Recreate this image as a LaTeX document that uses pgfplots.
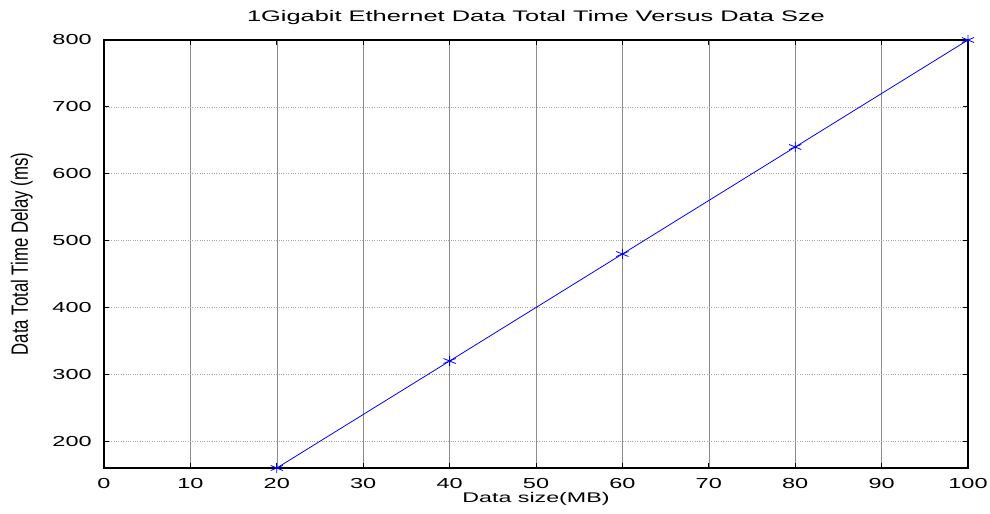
\documentclass[border=0pt]{standalone}
\usepackage{pgfplots}
\pgfplotsset{compat=1.18}
\usepackage{fontspec}
\setmainfont{Liberation Sans}
\begin{document}
\begin{tikzpicture}
\begin{axis}[
  scale only axis,
  width=864bp, height=428bp,
  xmin=0, xmax=100, ymin=160, ymax=800,
  xtick={0,10,...,100},
  ytick={200,300,...,800},
  grid=major,
  x grid style={gray!90, line width=0.6bp},
  y grid style={gray!70, dotted, line width=0.6bp},
  axis line style={black, line width=1.3bp},
  tick align=inside,
  major tick length=5bp,
  tick style={black, line width=0.9bp},
  /pgf/number format/assume math mode=true,
  xticklabel style={font=\fontsize{14.5bp}{16bp}\selectfont, xscale=1.62, anchor=north, inner sep=0pt, yshift=-10bp},
  yticklabel style={font=\fontsize{14.5bp}{16bp}\selectfont, xscale=1.62, anchor=east, inner sep=0pt, xshift=-7.4bp},
  title={\fontsize{15.3bp}{17bp}\selectfont\scalebox{1.66}[1]{1Gigabit Ethernet Data Total Time Versus Data Sze}},
  title style={at={(axis description cs:0.5,1)}, anchor=base, inner sep=0pt, yshift=13bp},
  xlabel={\fontsize{14bp}{16bp}\selectfont\scalebox{1.66}[1]{Data size(MB)}},
  xlabel style={at={(axis description cs:0.5,-0.056)}, anchor=north, inner sep=0pt},
  ylabel={\fontsize{16.8bp}{19bp}\selectfont\scalebox{1}[1.4]{Data Total Time Delay (ms)}},
  ylabel style={at={(axis description cs:-0.0822,0.5)}, anchor=south, inner sep=0pt},
]
\addplot[blue, line width=0.8bp, mark=asterisk, mark size=5bp, mark options={line width=0.8bp, xscale=1.4}] coordinates {
  (20,160) (40,320) (60,480) (80,640) (100,800)
};
\end{axis}
\pgfresetboundingbox
\path[use as bounding box] (-104bp,-46bp) rectangle (886bp,468bp);
\end{tikzpicture}
\end{document}
